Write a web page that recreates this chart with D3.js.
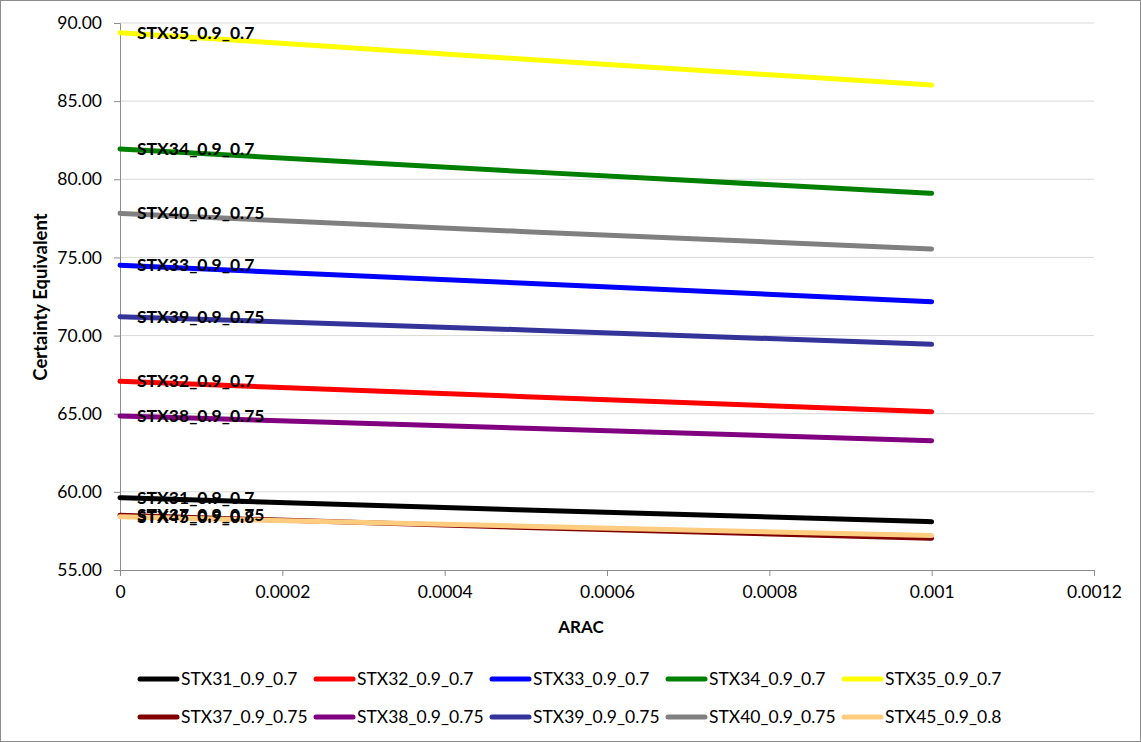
<!DOCTYPE html>
<html><head><meta charset="utf-8">
<script src="https://cdn.jsdelivr.net/npm/d3@7"></script>
<style>body{margin:0;background:#fff}svg{display:block}</style>
</head><body>
<svg id="c" width="1141" height="742"></svg>
<script>
const xValues = [0, 0.0005, 0.001];
const seriesNames = ["STX31_0.9_0.7","STX32_0.9_0.7","STX33_0.9_0.7","STX34_0.9_0.7","STX35_0.9_0.7",
                     "STX37_0.9_0.75","STX38_0.9_0.75","STX39_0.9_0.75","STX40_0.9_0.75","STX45_0.9_0.8"];
const seriesColors = ["#000000","#ff0000","#0000ff","#008000","#ffff00",
                      "#800000","#800080","#333399","#808080","#ffcc80"];
const stx31 = [59.63, 58.84, 58.09];
const stx32 = [67.07, 66.09, 65.13];
const stx33 = [74.50, 73.35, 72.17];
const stx34 = [81.94, 80.49, 79.10];
const stx35 = [89.38, 87.68, 86.03];
const stx37 = [58.50, 57.72, 57.03];
const stx38 = [64.86, 64.07, 63.27];
const stx39 = [71.21, 70.36, 69.44];
const stx40 = [77.82, 76.65, 75.54];
const stx45 = [58.40, 57.80, 57.20];
const seriesValues = [stx31, stx32, stx33, stx34, stx35, stx37, stx38, stx39, stx40, stx45];
const yTicks = [55, 60, 65, 70, 75, 80, 85, 90];
const xTicks = [0, 0.0002, 0.0004, 0.0006, 0.0008, 0.001, 0.0012];
const xTickLabels = ["0", "0.0002", "0.0004", "0.0006", "0.0008", "0.001", "0.0012"];

const svg = d3.select("#c");
const font = "Lato, 'Open Sans', sans-serif";
svg.append("rect").attr("x",0.5).attr("y",0.5).attr("width",1140).attr("height",741)
  .attr("fill","#fff").attr("stroke","#8c8c8c");

const L = 120, R = 1094, T = 23, B = 570;
const x = d3.scaleLinear().domain([0, 0.0012]).range([L, R]);
const y = d3.scaleLinear().domain([55, 90]).range([B, T]);

// gridlines
svg.append("g").selectAll("line").data(yTicks.filter(v => v > 55)).join("line")
  .attr("x1", L).attr("x2", R).attr("y1", d => y(d)).attr("y2", d => y(d))
  .attr("stroke", "#d9d9d9").attr("stroke-width", 1);

// y axis
const ya = svg.append("g").attr("transform", `translate(${L},0)`)
  .call(d3.axisLeft(y).tickValues(yTicks).tickFormat(d3.format(".2f")).tickSize(6).tickPadding(12));
ya.select(".domain").attr("stroke", "#8c8c8c");
ya.selectAll(".tick line").attr("stroke", "#8c8c8c");
ya.selectAll("text").attr("font-family", font).attr("font-size", 17.5).attr("fill", "#000");

// x axis
const xa = svg.append("g").attr("transform", `translate(0,${B})`)
  .call(d3.axisBottom(x).tickValues(xTicks).tickFormat((d, i) => xTickLabels[i]).tickSize(6).tickPadding(10));
xa.select(".domain").attr("stroke", "#8c8c8c");
xa.selectAll(".tick line").attr("stroke", "#8c8c8c");
xa.selectAll("text").attr("font-family", font).attr("font-size", 17.5).attr("fill", "#000");

// axis titles
svg.append("text").attr("x", 581).attr("y", 633).attr("text-anchor", "middle")
  .attr("font-family", font).attr("font-weight", "bold").attr("font-size", 17).text("ARAC");
svg.append("text").attr("transform", "translate(47,297) rotate(-90)").attr("text-anchor", "middle")
  .attr("font-family", font).attr("font-weight", "bold").attr("font-size", 18.5).text("Certainty Equivalent");

// lines
const line = d3.line().x((d, i) => x(xValues[i])).y(d => y(d)).curve(d3.curveMonotoneX);
svg.append("g").selectAll("path").data(seriesValues).join("path")
  .attr("d", d => line(d)).attr("fill", "none")
  .attr("stroke", (d, i) => seriesColors[i]).attr("stroke-width", 5)
  .attr("stroke-linecap", "round").attr("stroke-linejoin", "round");

// data labels
svg.append("g").selectAll("text").data(seriesValues).join("text")
  .attr("x", x(0) + 17).attr("y", d => y(d[0])).attr("dy", "0.35em")
  .attr("font-family", font).attr("font-weight", "bold").attr("font-size", 17.5).attr("fill", "#000")
  .text((d, i) => seriesNames[i]);

// legend
const lg = svg.append("g");
seriesNames.forEach((name, i) => {
  const col = i % 5, row = Math.floor(i / 5);
  const lx = 140 + col * 176, ly = 679 + row * 38;
  lg.append("line").attr("x1", lx).attr("x2", lx + 37).attr("y1", ly).attr("y2", ly)
    .attr("stroke", seriesColors[i]).attr("stroke-width", 5).attr("stroke-linecap", "round");
  lg.append("text").attr("x", lx + 41).attr("y", ly).attr("dy", "0.35em")
    .attr("font-family", font).attr("font-size", 17.5).attr("fill", "#000").text(name);
});
</script>
</body></html>
